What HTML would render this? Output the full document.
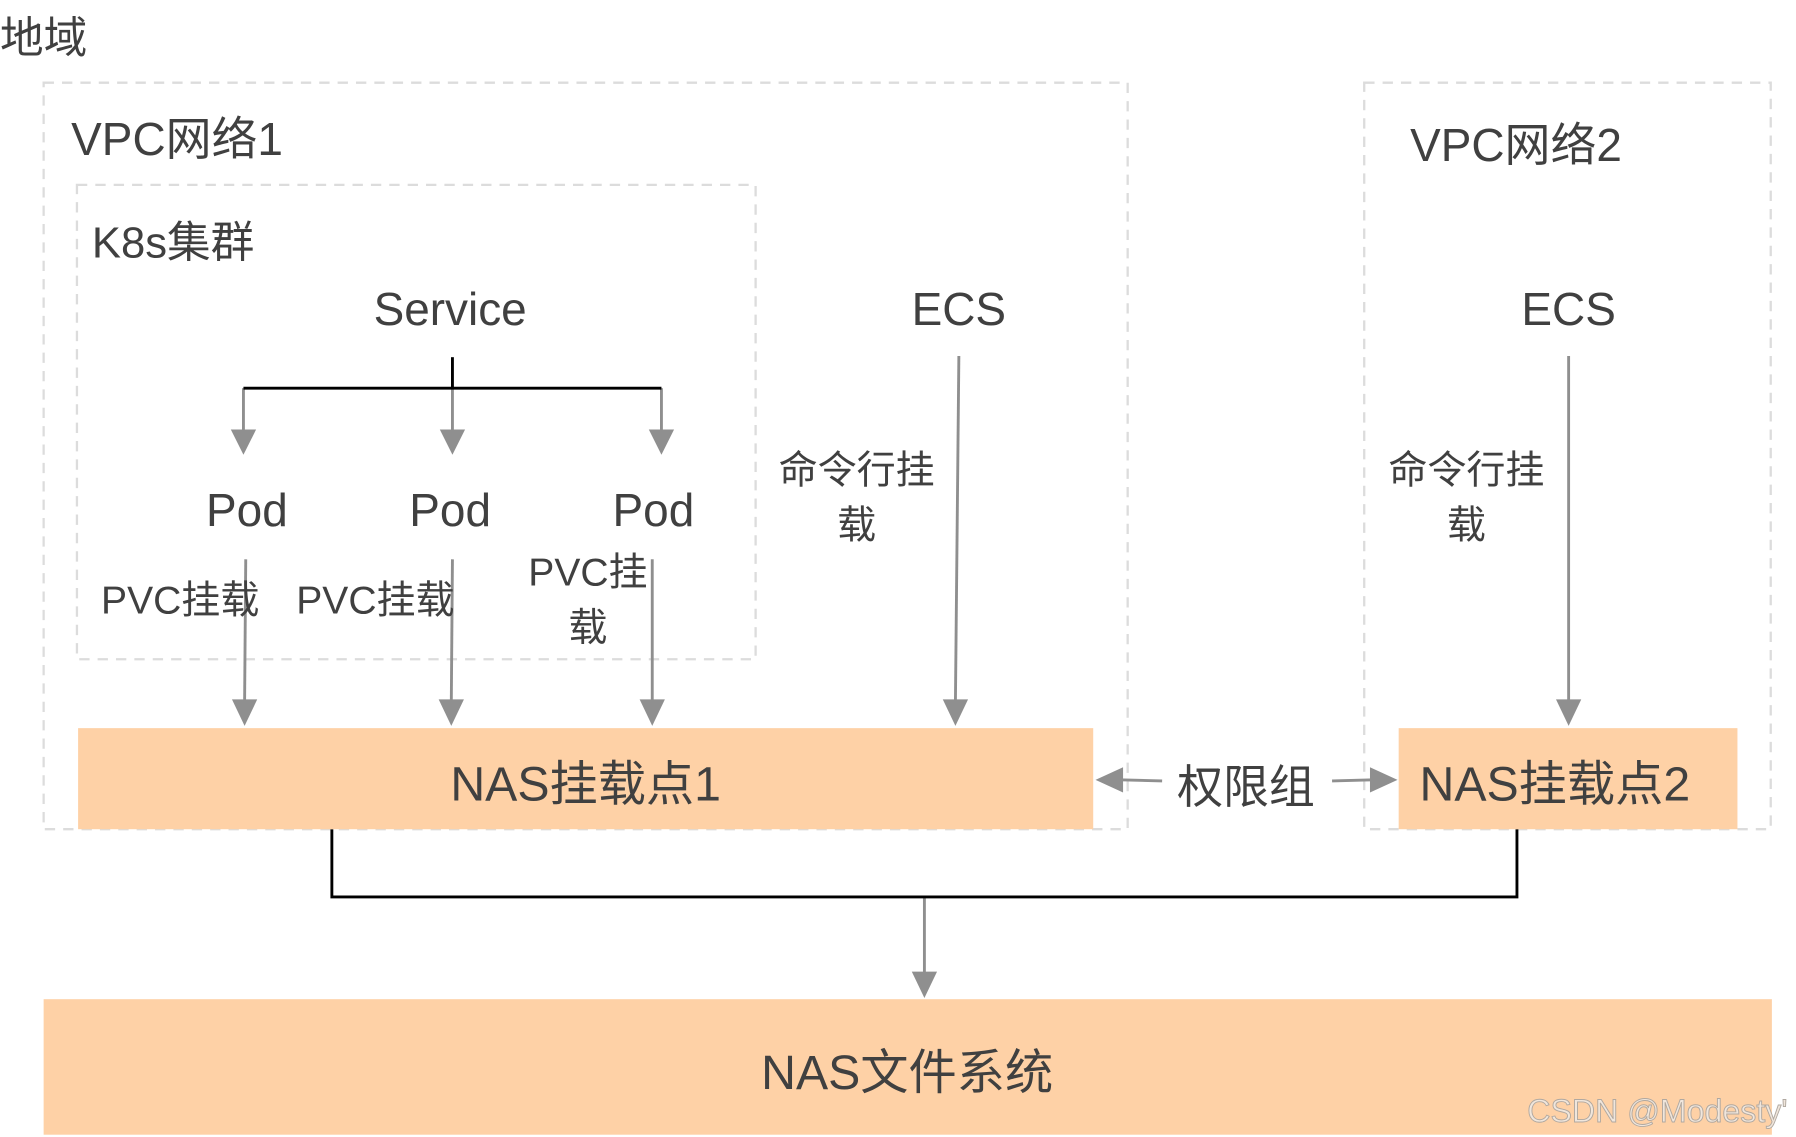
<!DOCTYPE html>
<html><head><meta charset="utf-8"><style>
html,body{margin:0;padding:0;background:#fff;}
svg{display:block;}
text{font-family:"Liberation Sans","Noto Sans CJK SC",sans-serif;fill:#404040;}
</style></head><body>
<svg width="1796" height="1137" viewBox="0 0 1564 990" preserveAspectRatio="none" xmlns="http://www.w3.org/2000/svg">
<defs>
<marker id="a" markerWidth="10" markerHeight="10" refX="9" refY="5" orient="auto" markerUnits="userSpaceOnUse" viewBox="0 0 10 10">
</marker>
</defs>
<rect width="1564" height="990" fill="#fff"/>
<text x="0" y="46" font-size="38">地域</text>
<!-- dashed containers -->
<rect x="38" y="72" width="944" height="650" fill="none" stroke="#dcdcdc" stroke-width="2" stroke-dasharray="9,7"/>
<rect x="67" y="161" width="591" height="413" fill="none" stroke="#dcdcdc" stroke-width="2" stroke-dasharray="9,7"/>
<rect x="1188" y="72" width="354" height="650" fill="none" stroke="#dcdcdc" stroke-width="2" stroke-dasharray="9,7"/>
<text x="62" y="135" font-size="40">VPC网络1</text>
<text x="80" y="224" font-size="38">K8s集群</text>
<text x="1228" y="140" font-size="40">VPC网络2</text>
<text x="392" y="283" font-size="40" text-anchor="middle">Service</text>
<text x="835" y="283" font-size="40" text-anchor="middle">ECS</text>
<text x="1366" y="283" font-size="40" text-anchor="middle">ECS</text>
<!-- tree -->
<g stroke="#8f8f8f" stroke-width="2.5" fill="none">
<line x1="212" y1="338" x2="212" y2="376"/>
<line x1="394" y1="338" x2="394" y2="376"/>
<line x1="576" y1="338" x2="576" y2="376"/>
<line x1="214" y1="487" x2="213" y2="612"/>
<line x1="394" y1="487" x2="393" y2="612"/>
<line x1="568" y1="487" x2="568" y2="612"/>
<line x1="835" y1="310" x2="832" y2="612"/>
<line x1="1366" y1="310" x2="1366" y2="612"/>
<line x1="1012" y1="680" x2="975" y2="679"/>
<line x1="1160" y1="680" x2="1196" y2="679"/>
<line x1="805" y1="781" x2="805" y2="848"/>
</g>
<g fill="#8f8f8f">
<polygon points="201,374 223,374 212,396"/>
<polygon points="383,374 405,374 394,396"/>
<polygon points="565,374 587,374 576,396"/>
<polygon points="202,609 224,609 213,632"/>
<polygon points="382,609 404,609 393,632"/>
<polygon points="557,609 579,609 568,632"/>
<polygon points="821,609 843,609 832,632"/>
<polygon points="1355,609 1377,609 1366,632"/>
<polygon points="978,668 978,690 954,679"/>
<polygon points="1193,668 1193,690 1217,679"/>
<polygon points="794,846 816,846 805,869"/>
</g>
<g stroke="#000" stroke-width="2.5" fill="none">
<polyline points="394,311 394,338"/>
<polyline points="212,338 576,338"/>
<polyline points="289,722 289,781 1321,781 1321,722"/>
</g>
<text x="215" y="458" font-size="40" text-anchor="middle">Pod</text>
<text x="392" y="458" font-size="40" text-anchor="middle">Pod</text>
<text x="569" y="458" font-size="40" text-anchor="middle">Pod</text>
<text x="88" y="534" font-size="34">PVC挂载</text>
<text x="258" y="534" font-size="34">PVC挂载</text>
<text x="512" y="510" font-size="34" text-anchor="middle">PVC挂</text>
<text x="512" y="558" font-size="34" text-anchor="middle">载</text>
<text x="746" y="421" font-size="34" text-anchor="middle">命令行挂</text>
<text x="746" y="469" font-size="34" text-anchor="middle">载</text>
<text x="1277" y="421" font-size="34" text-anchor="middle">命令行挂</text>
<text x="1277" y="469" font-size="34" text-anchor="middle">载</text>
<rect x="68" y="634" width="884" height="88" fill="#fed1a6"/>
<text x="510" y="697" font-size="42" text-anchor="middle">NAS挂载点1</text>
<rect x="1218" y="634" width="295" height="88" fill="#fed1a6"/>
<text x="1354" y="697" font-size="42" text-anchor="middle">NAS挂载点2</text>
<text x="1085" y="699" font-size="40" text-anchor="middle">权限组</text>
<rect x="38" y="870" width="1505" height="118" fill="#fed1a6"/>
<text x="790" y="948" font-size="42" text-anchor="middle">NAS文件系统</text>
<text x="1330" y="977" font-size="28" style="fill:#f0e6dc;stroke:#b0a8a0;stroke-width:0.8">CSDN @Modesty'</text>
</svg>
</body></html>
